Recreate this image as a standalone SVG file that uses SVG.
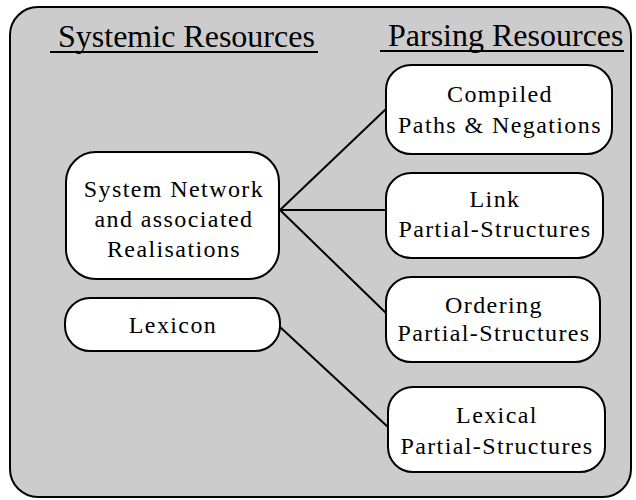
<svg xmlns="http://www.w3.org/2000/svg" width="636" height="500" viewBox="0 0 636 500">
<style>
.bg{fill:#cccccc;stroke:#000;stroke-width:2}
.node{fill:#fff;stroke:#000;stroke-width:2}
.t{font-size:24px;letter-spacing:1.4px;text-anchor:middle;fill:#000}
.h{font-size:32px;fill:#000}
.ul{stroke:#000;stroke-width:2}
.c{stroke:#000;stroke-width:2;fill:none}
</style>
<rect class="bg" x="10" y="7" width="621" height="490" rx="28" ry="28"/>
<g font-family="'Liberation Serif', 'Times New Roman', 'DejaVu Serif', serif">
<g id="headings">
<text class="h" x="58" y="47">Systemic Resources</text>
<line class="ul" x1="50" y1="52" x2="318" y2="52"/>
<text class="h" x="388" y="46">Parsing Resources</text>
<line class="ul" x1="380" y1="51" x2="624" y2="51"/>
</g>
<g id="connectors">
<line class="c" x1="280" y1="210" x2="386" y2="109"/>
<line class="c" x1="280" y1="210" x2="386" y2="210"/>
<line class="c" x1="280" y1="210" x2="386" y2="313"/>
<line class="c" x1="280" y1="327" x2="389" y2="428"/>
</g>
<g id="system-network">
<rect class="node" x="66" y="152" width="213" height="127" rx="30" ry="30"/>
<text class="t" x="174" y="197">System Network</text>
<text class="t" x="174" y="227">and associated</text>
<text class="t" x="174" y="257">Realisations</text>
</g>
<g id="lexicon">
<rect class="node" x="65" y="298" width="215" height="53" rx="25" ry="25"/>
<text class="t" x="173" y="333">Lexicon</text>
</g>
<g id="compiled">
<rect class="node" x="386" y="65" width="226" height="89" rx="25" ry="25"/>
<text class="t" x="500" y="102">Compiled</text>
<text class="t" x="500" y="133">Paths &amp; Negations</text>
</g>
<g id="link">
<rect class="node" x="386" y="173" width="217" height="85" rx="25" ry="25"/>
<text class="t" x="495" y="207">Link</text>
<text class="t" x="495" y="237">Partial-Structures</text>
</g>
<g id="ordering">
<rect class="node" x="386" y="277" width="214" height="85" rx="25" ry="25"/>
<text class="t" x="494" y="313">Ordering</text>
<text class="t" x="494" y="341">Partial-Structures</text>
</g>
<g id="lexical">
<rect class="node" x="388" y="387" width="217" height="85" rx="25" ry="25"/>
<text class="t" x="497" y="423">Lexical</text>
<text class="t" x="497" y="454">Partial-Structures</text>
</g>
</g>
</svg>
